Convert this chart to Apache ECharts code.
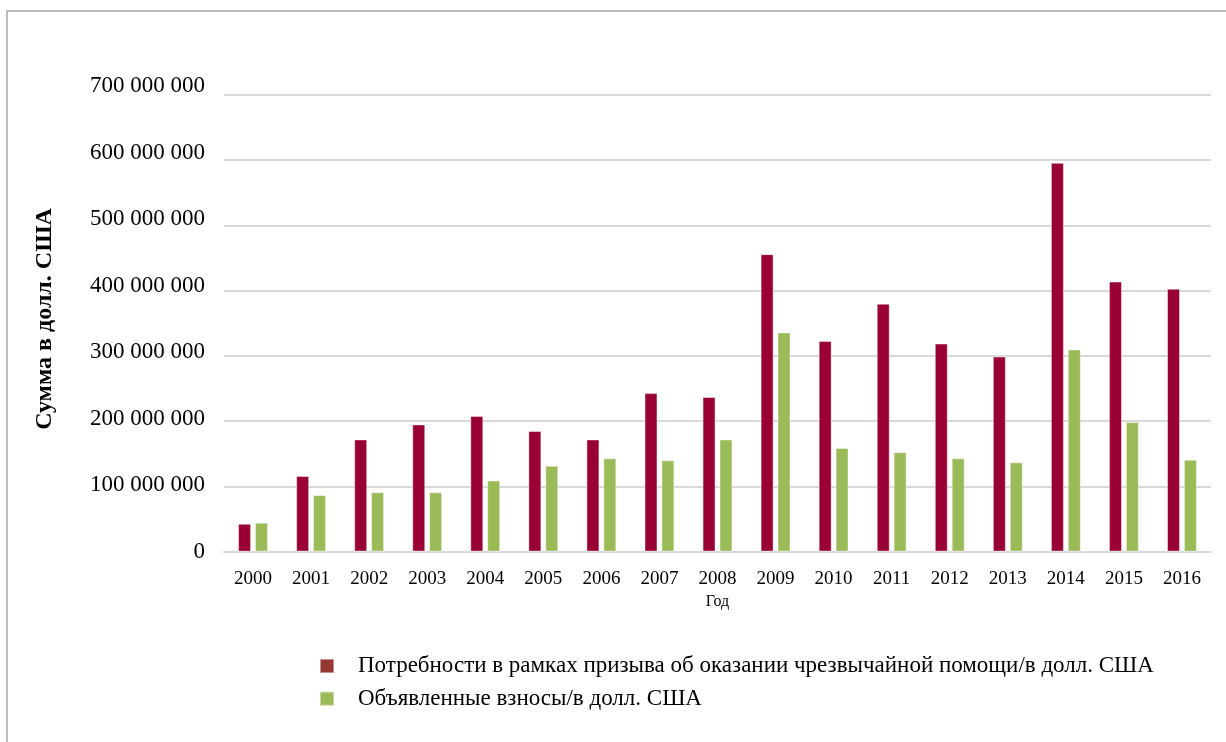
<!DOCTYPE html>
<html>
<head>
<meta charset="utf-8">
<script src="https://cdn.jsdelivr.net/npm/echarts@6/dist/echarts.min.js"></script>
<style>
html,body{margin:0;padding:0;background:#fff;}
#c{width:1226px;height:742px;}
</style>
</head>
<body>
<div id="c"></div>
<script>
const years = ['2000','2001','2002','2003','2004','2005','2006','2007','2008','2009','2010','2011','2012','2013','2014','2015','2016'];
const needs = [42700000,115800000,172000000,195000000,208000000,185000000,172000000,243000000,237000000,456000000,323000000,380000000,319000000,299000000,596000000,414000000,403000000];
const pledges = [44300000,86700000,91000000,91000000,109000000,131500000,143000000,140000000,172000000,336000000,159000000,152500000,143000000,137000000,310000000,198500000,141000000];
const seriesNames = ['Потребности в рамках призыва об оказании чрезвычайной помощи/в долл. США','Объявленные взносы/в долл. США'];
const yAxisTitle = 'Сумма в долл. США';
const xAxisTitle = 'Год';

const font = "'Liberation Serif','Times New Roman',serif";
function fmt(v){ return String(v).replace(/\B(?=(\d{3})+(?!\d))/g,' '); }

const chart = echarts.init(document.getElementById('c'));
chart.setOption({
  backgroundColor:'#fff',
  animation:false,
  textStyle:{fontFamily:font,color:'#000'},
  graphic:[{type:'rect',shape:{x:7,y:11,width:1260,height:800},style:{fill:'none',stroke:'#a6a6a6',lineWidth:1.5},silent:true}],
  grid:[
    {left:224,right:15,top:95,bottom:190.4},
    {left:224,right:15,top:86,bottom:190}
  ],
  legend:{
    orient:'vertical',left:319,top:654.5,padding:0,itemWidth:14,itemHeight:14,itemGap:9.7,
    icon:'rect',
    textStyle:{fontFamily:font,fontSize:23,color:'#000',padding:[0,0,0,19],lineHeight:23},
    data:[
      {name:seriesNames[0],itemStyle:{color:'#953735'}},
      {name:seriesNames[1],itemStyle:{color:'#9bbb59'}}
    ]
  },
  xAxis:[
    {type:'category',gridIndex:0,data:years,
     axisLine:{lineStyle:{color:'#d9d9d9',width:2}},axisTick:{show:false},
     axisLabel:{fontFamily:font,fontSize:19,color:'#000',margin:18},
     name:xAxisTitle,nameLocation:'middle',nameGap:36,
     nameTextStyle:{fontFamily:font,fontSize:16,color:'#000'}},
    {type:'category',gridIndex:1,data:years,show:false}
  ],
  yAxis:[
    {type:'value',gridIndex:0,min:0,max:700000000,interval:100000000,
     axisLine:{show:false},axisTick:{show:false},axisLabel:{show:false},
     splitLine:{lineStyle:{color:'#d9d9d9',width:2}}},
    {type:'value',gridIndex:1,min:0,max:700000000,interval:100000000,
     axisLine:{show:false},axisTick:{show:false},splitLine:{show:false},
     axisLabel:{fontFamily:font,fontSize:23,color:'#000',margin:19,formatter:fmt},
     name:yAxisTitle,nameLocation:'middle',nameGap:167,nameRotate:90,
     nameTextStyle:{fontFamily:font,fontSize:24,fontWeight:'bold',color:'#000'}}
  ],
  series:[
    {name:seriesNames[0],type:'bar',xAxisIndex:0,yAxisIndex:0,data:needs,barWidth:13,barGap:'30%',
     itemStyle:{color:'#990033',borderColor:'rgba(255,255,255,0.45)',borderWidth:1}},
    {name:seriesNames[1],type:'bar',xAxisIndex:0,yAxisIndex:0,data:pledges,barWidth:13,barGap:'30%',
     itemStyle:{color:'#9bbb59',borderColor:'rgba(255,255,255,0.45)',borderWidth:1}}
  ]
});
</script>
</body>
</html>
